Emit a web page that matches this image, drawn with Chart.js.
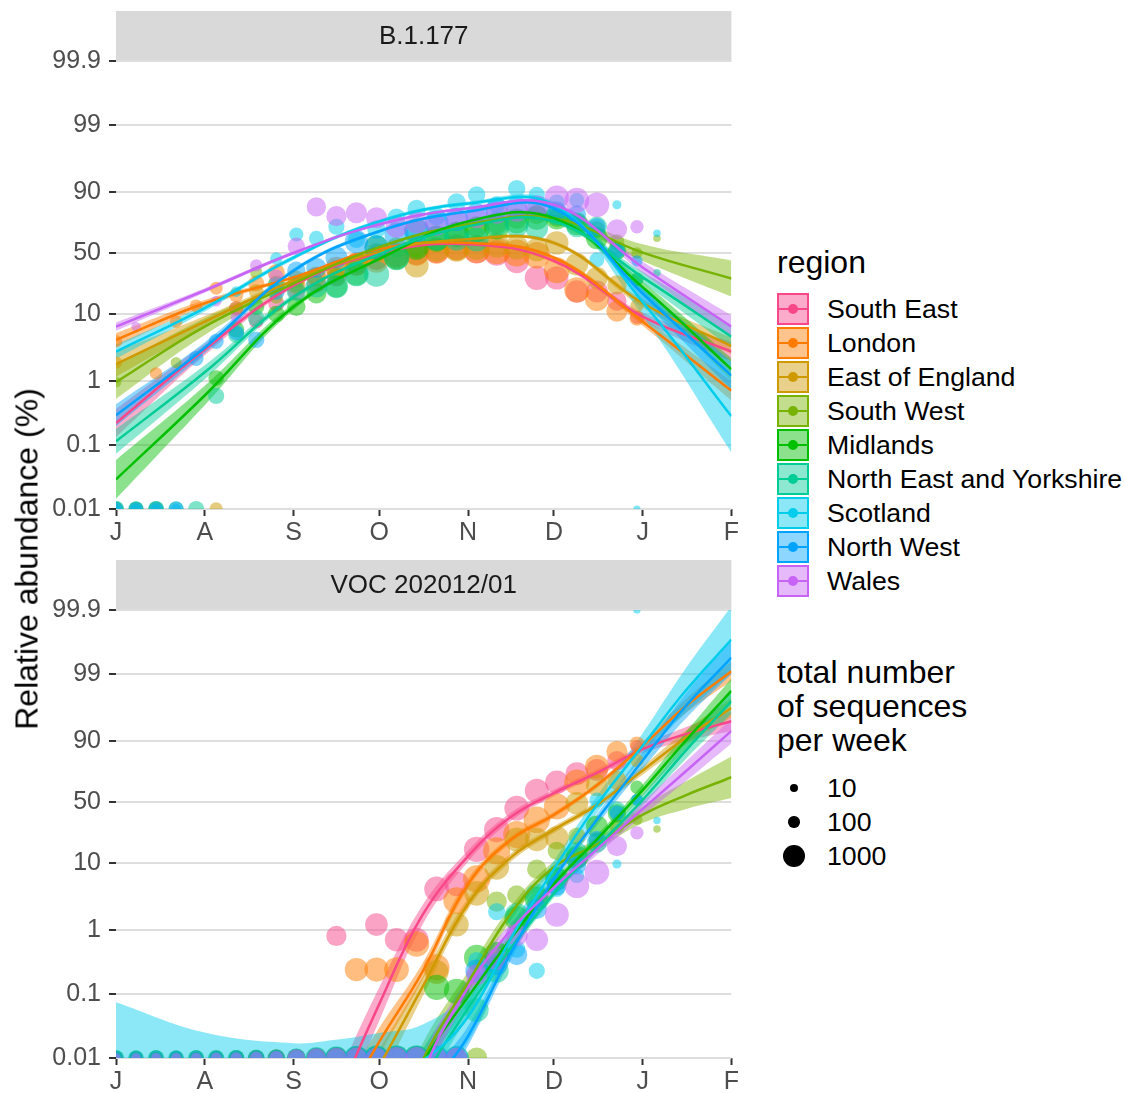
<!DOCTYPE html>
<html>
<head>
<meta charset="utf-8">
<script src="https://cdn.jsdelivr.net/npm/chart.js@4.4.1/dist/chart.umd.min.js"></script>
<style>
  body { margin: 0; background: #fff; width: 1125px; height: 1093px; overflow: hidden; position: relative;
         font-family: "Liberation Sans", Arial, Helvetica, sans-serif; }
  .panel { position: absolute; left: 0; width: 745px; height: 545px; }
  #ytitle { position: absolute; left: 27px; top: 559px; transform: translate(-50%, -50%) rotate(-90deg);
            white-space: nowrap; font-size: 32px; color: #000; }
  .ltitle { position: absolute; left: 777px; font-size: 32px; line-height: 34px; color: #000; white-space: nowrap; }
  .ltext { position: absolute; left: 827px; font-size: 26.7px; line-height: 34px; color: #000; white-space: nowrap; }
  .key { position: absolute; left: 777px; width: 32px; height: 32px; box-sizing: border-box; }
  .key i { position: absolute; left: 0; right: 0; top: 13px; height: 2px; }
  .key b { position: absolute; left: 9px; top: 9px; width: 10px; height: 10px; border-radius: 50%; }
  .sdot { position: absolute; border-radius: 50%; background: #000; }
</style>
</head>
<body>
<div class="panel" style="top:0"><canvas id="b177Chart" width="745" height="545"></canvas></div>
<div class="panel" style="top:549px"><canvas id="vocChart" width="745" height="545"></canvas></div>
<div id="ytitle">Relative abundance (%)</div>
<div id="legend"></div>
<script>
// regions and colours
const regions = ["South East", "London", "East of England", "South West", "Midlands",
  "North East and Yorkshire", "Scotland", "North West", "Wales"];
const regionColors = ["#F8488A", "#FF7C00", "#CE9A00", "#77B300", "#00BF00",
  "#00CC96", "#00CDEB", "#00A3FF", "#C864F5"];

// axes
const monthLabels = ["J", "A", "S", "O", "N", "D", "J", "F"];
const monthStartDays = [0, 31, 62, 92, 123, 153, 184, 215]; // days since 1 July 2020
const yTickPct = [0.01, 0.1, 1, 10, 50, 90, 99, 99.9];
const yTickLabels = ["0.01", "0.1", "1", "10", "50", "90", "99", "99.9"];
const sizeLegendCounts = [10, 100, 1000];

// weekly observations
const weekDays = [0, 7, 14, 21, 28, 35, 42, 49, 56, 63, 70, 77, 84, 91, 98, 105, 112, 119, 126, 133,
  140, 147, 154, 161, 168, 175, 182, 189];

// total number of sequences per week, one row per region
const seqCounts = [
  [150,150,160,170,180,200,250,300,400,500, 700,800,1000,1100,1200,1300,1400,1400,1500,1500, 1400,1300,1200,1100,1000,700,200,15],
  [150,150,150,160,170,180,250,400,500,600, 800,1000,1200,1300,1400,1500,1600,1700,1800,1800, 1800,1700,1600,1500,1300,900,300,15],
  [150,150,150,160,170,200,250,300,400,500, 600,800,1000,1100,1200,1300,1300,1300,1400,1400, 1300,1200,1200,1100,1000,700,200,15],
  [80,80,80,90,100,100,120,150,200,300, 400,500,600,700,800,900,900,900,900,800, 700,700,600,500,400,300,100,5],
  [350,300,350,300,350,350,400,400,450,600, 800,1000,1200,1300,1400,1400,1500,1500,1500,1500, 1400,1300,1200,1100,1000,600,200,5],
  [400,350,380,350,380,400,400,450,500,700, 1000,1200,1400,1500,1500,1500,1400,1400,1300,1300, 1200,1100,1000,900,800,500,150,5],
  [60,60,60,60,70,70,80,100,150,250, 300,400,500,600,600,600,600,600,500,500, 500,400,400,300,300,30,3,5],
  [300,280,300,300,300,320,350,400,450,600, 800,1000,1200,1300,1300,1300,1300,1200,1100,1000, 900,800,700,600,500,300,100,5],
  [40,40,50,60,70,80,100,150,250,500, 700,800,900,900,1000,1000,900,900,900,1000, 1000,1100,1300,1400,1400,800,200,5]
];

// B.1.177 share (%) per week
const b177Pct = [
  [null,null,null,null,null,null,12,8,14,20, 25,30,40,45,48,50,52,55,52,50, 43,29,29,20,20,15,9,null],
  [4,null,1.3,7.8,13,22,18,25,33,24, 30,37,40,43,48,50,52,55,53,52, 50,48,35,21,16,11,8.7,null],
  [1.9,null,null,null,null,0,12,20,25,28, 30,35,40,45,46,39,53,53,55,57, 55,53,59,40,29,24,13,null],
  [0.95,null,null,1.9,null,null,null,33,17,24, null,30,40,50,55,55,60,68,72,74, 77,80,78,75,70,60,50,63],
  [0,0,0,null,null,1.1,6,12.6,10,12.6, 19,23,32,55,46,55,63,66,70,72, 76,78,78,74,63,52,28,null],
  [0,0,0,0,0,0.58,5,8.7,23.7,20, 23,23,32,32,46,69,63,63,62,74, 73,71,80,72,72,52,28,33],
  [0,0,0,0,null,null,20,null,45,66, 63,72,62,70,78,83,79,86,89,85, 91,89,86,87,44,85,0,67],
  [0,0,0,0,2.2,4,5.4,4.2,20,34.6, 37,46,60,55,66,69,75,77,80,83, 84,83,82,80,72,52,43,null],
  [null,6.6,null,null,null,15,9,39,30,56, 84,79,81,78,72,75,73,77,78,81, 82,84,88,87,85,70,72,null]
];

// VOC 202012/01 share (%) per week
const vocPct = [
  [0,0,0,0,0,0,0,0,0,0, 0,0.8,0,1.2,0.7,0.7,4.2,5,15.4,27, 44.4,60,67,73.5,76,81.6,88,null],
  [0,0,0,0,0,0,0,0,0,0, 0,0,0.24,0.24,0.24,0.6,0.26,2.8,5.9,14.7, 23.7,34.5,46,67,78,86,89,null],
  [0,0,0,0,0,0,0,0,0,0, 0,0,0,0,0,0,0.22,1.2,3.6,8.7, 20.6,20.6,21.6,48.8,64.6,68.6,81.6,null],
  [0,0,0,0,0,0,0,0,0,0, 0,0,0,0,0,0,0,0,0,2.7, 3.4,8.2,14.7,22.6,20,29.4,35,27.5],
  [0,0,0,0,0,0,0,0,0,0, 0,0,0,0,0,0,0.127,0.11,0.37,0.41, 1.5,3,5.9,12,29.4,40,63,null],
  [0,0,0,0,0,0,0,0,0,0, 0,0,0,0,0,0,0,0,0.056,0.23, 1.7,3.4,6,14,18.8,43,51.8,null],
  [0,0,0,0,0,0,0,0,0,0, 0,0,0,0,0,0,0,0,0.33,1.9, 0.5,0.23,4.2,6.6,51.8,9.7,100,34],
  [0,0,0,0,0,0,0,0,0,0, 0,0,0,0,0,0,0,0,0.23,0.29, 0.41,2.1,4.7,9.2,20.6,40,52,null],
  [0,0,0,0,0,0,0,0,0,0, 0,0,0,0,0,0,0,0,0.2,0.35, 0.83,0.7,1.7,4.7,7.4,17,24.8,null]
];

// fitted curves (%) and band half-widths (logit units)
const b177FitDays = [0, 31, 62, 92, 123, 153, 184, 215];
const b177Fit = [
  [0.22, 3.0, 23.7, 50, 57.9, 43, 9.2, 2.8],
  [4.2, 14.1, 29.4, 53.5, 59, 45.8, 7.8, 0.7],
  [1.8, 7.8, 27, 51, 62.2, 59, 14.1, 3.4],
  [0.95, 6.6, 25, 55.3, 73.7, 77.8, 50.3, 28.5],
  [0.029, 0.59, 12.6, 44.7, 75.7, 77.8, 22.6, 1.5],
  [0.114, 1.35, 17, 49, 72.3, 75.7, 29.4, 4.7],
  [2.8, 12.1, 45.8, 75.7, 85.6, 85, 14.6, 0.28],
  [0.29, 3.2, 34.6, 68.6, 81.6, 83.3, 18.9, 1.2],
  [6.6, 20.6, 50, 73.7, 83.3, 85, 37.3, 6.6]
];
const b177Band = [
  [0.5, 0.2, 0.08, 0.06, 0.06, 0.08, 0.15, 0.35],
  [0.25, 0.12, 0.06, 0.05, 0.05, 0.07, 0.15, 0.35],
  [0.45, 0.2, 0.08, 0.06, 0.06, 0.07, 0.15, 0.3],
  [0.6, 0.3, 0.1, 0.07, 0.07, 0.12, 0.3, 0.65],
  [0.7, 0.35, 0.12, 0.07, 0.06, 0.08, 0.2, 0.4],
  [0.45, 0.25, 0.1, 0.06, 0.06, 0.08, 0.2, 0.4],
  [0.25, 0.12, 0.08, 0.07, 0.07, 0.12, 0.5, 1.3],
  [0.4, 0.2, 0.08, 0.06, 0.06, 0.08, 0.25, 0.5],
  [0.15, 0.08, 0.06, 0.05, 0.05, 0.07, 0.2, 0.4]
];

const vocFitDays = [0, 31, 62, 76, 92, 107, 123, 138, 153, 168, 184, 199, 215];
const vocFit = [
  [null, null, null, 0.0017, 0.07, 1.66, 12.5, 37, 58, 74, 87, 92, 94.8],
  [null, null, null, 0.001, 0.018, 0.22, 5, 20.6, 38.7, 64.6, 88.3, 96.9, 99.1],
  [null, null, null, 0.0004, 0.0075, 0.127, 2.5, 12, 27, 47.4, 75.6, 91, 96.7],
  [null, null, null, null, 0.0002, 0.009, 0.15, 1.8, 8.8, 17.9, 38.7, 56, 70.9],
  [null, null, null, null, 0.0002, 0.008, 0.09, 0.74, 5, 20.6, 60.5, 90, 98.2],
  [null, null, null, null, 0.0001, 0.004, 0.06, 0.52, 3.6, 16.4, 51.8, 86.3, 97.4],
  [0.005, 0.0025, 0.0023, 0.003, 0.0045, 0.009, 0.044, 0.74, 8.2, 47.4, 88.3, 98.2, 99.71],
  [null, null, null, null, 0.00001, 0.0018, 0.022, 0.44, 5.9, 34.5, 81.6, 96.9, 99.45],
  [null, null, null, null, 0.00001, 0.005, 0.127, 0.99, 4.4, 15.4, 43.8, 75, 92.8]
];
const vocBand = [
  [null, null, null, 0.8, 0.6, 0.35, 0.2, 0.15, 0.12, 0.12, 0.15, 0.25, 0.35],
  [null, null, null, 0.7, 0.5, 0.3, 0.18, 0.12, 0.1, 0.1, 0.15, 0.25, 0.35],
  [null, null, null, 0.8, 0.6, 0.35, 0.2, 0.15, 0.12, 0.12, 0.15, 0.25, 0.35],
  [null, null, null, null, 0.9, 0.6, 0.4, 0.25, 0.2, 0.2, 0.3, 0.5, 0.75],
  [null, null, null, null, 0.8, 0.5, 0.3, 0.2, 0.15, 0.15, 0.2, 0.3, 0.45],
  [null, null, null, null, 0.8, 0.5, 0.3, 0.2, 0.15, 0.15, 0.2, 0.3, 0.45],
  [2.7, 2.3, 2.0, 1.85, 1.7, 1.3, 0.9, 0.45, 0.3, 0.3, 0.45, 0.8, 1.2],
  [null, null, null, null, 0.9, 0.6, 0.35, 0.25, 0.2, 0.2, 0.3, 0.45, 0.6],
  [null, null, null, null, 0.9, 0.6, 0.35, 0.25, 0.2, 0.2, 0.25, 0.35, 0.45]
];

const FONT = '"Liberation Sans", Arial, Helvetica, sans-serif';

// logit scale helpers
const logit = p => Math.log(p / (100 - p));
const squish = p => Math.min(Math.max(p, 0.01), 99.9);
const dotRadius = n => 3.2 + 0.245 * Math.sqrt(n);

function withAlpha(hex, a) {
  const v = parseInt(hex.slice(1), 16);
  return `rgba(${(v >> 16) & 255}, ${(v >> 8) & 255}, ${v & 255}, ${a})`;
}

// draw order: ribbons at the back, then points, then fitted lines on top
function buildDatasets(pct, fitDays, fit, band) {
  const sets = [];
  regions.forEach((name, i) => {
    const col = regionColors[i];
    const pts = [];
    weekDays.forEach((d, w) => {
      if (pct[i][w] == null) return;
      pts.push({ x: d, y: logit(squish(pct[i][w])), r: dotRadius(seqCounts[i][w]) });
    });
    sets.push({
      type: "bubble", label: name, data: pts,
      backgroundColor: withAlpha(col, 0.5), borderWidth: 0,
      clip: 0, order: 200 - i
    });

    const hi = [], lo = [], mid = [];
    fitDays.forEach((d, k) => {
      if (fit[i][k] == null) return;
      const c = logit(fit[i][k]);
      mid.push({ x: d, y: c });
      hi.push({ x: d, y: c + band[i][k] });
      lo.push({ x: d, y: c - band[i][k] });
    });
    const lineBase = { type: "line", pointRadius: 0, tension: 0.4, clip: 0 };
    sets.push(Object.assign({}, lineBase, { data: hi, borderWidth: 0, fill: false, order: 300 - i }));
    sets.push(Object.assign({}, lineBase, {
      data: lo, borderWidth: 0, fill: "-1",
      backgroundColor: withAlpha(col, 0.45), order: 300 - i
    }));
    sets.push(Object.assign({}, lineBase, {
      data: mid, borderColor: col, borderWidth: 2.5, fill: false, order: 100 - i
    }));
  });
  return sets;
}

// grey facet strip above the plot area
const stripPlugin = {
  id: "strip",
  beforeDraw(chart, args, opts) {
    const { ctx, chartArea } = chart;
    ctx.save();
    ctx.fillStyle = "#D9D9D9";
    ctx.fillRect(chartArea.left, chartArea.top - 50, chartArea.right - chartArea.left, 50);
    ctx.fillStyle = "#1A1A1A";
    ctx.font = "26px " + FONT;
    ctx.textAlign = "center";
    ctx.textBaseline = "middle";
    ctx.fillText(opts.text, (chartArea.left + chartArea.right) / 2, chartArea.top - 24);
    ctx.restore();
  }
};

function makeChart(canvasId, title, pct, fitDays, fit, band) {
  const ctx = document.getElementById(canvasId).getContext("2d");
  return new Chart(ctx, {
    type: "line",
    data: { datasets: buildDatasets(pct, fitDays, fit, band) },
    plugins: [stripPlugin],
    options: {
      responsive: false,
      animation: false,
      events: [],
      layout: { padding: { top: 61, right: 12, bottom: 0, left: 0 } },
      elements: { line: { capBezierPoints: false } },
      plugins: {
        legend: { display: false },
        tooltip: { enabled: false },
        strip: { text: title }
      },
      scales: {
        x: {
          type: "linear", min: 0, max: 215,
          afterFit: s => { s.height = 36; },
          afterBuildTicks: s => { s.ticks = monthStartDays.map(v => ({ value: v })); },
          ticks: {
            callback: (v, i) => monthLabels[i],
            color: "#4D4D4D", font: { size: 25, family: FONT },
            padding: 2, autoSkip: false, maxRotation: 0
          },
          grid: { drawOnChartArea: false, tickLength: 7, tickWidth: 2, tickColor: "#333333" },
          border: { display: false }
        },
        y: {
          type: "linear", min: logit(0.01), max: logit(99.9),
          afterFit: s => { s.width = 116; },
          afterBuildTicks: s => { s.ticks = yTickPct.map(p => ({ value: logit(p) })); },
          ticks: {
            callback: (v, i) => yTickLabels[i],
            color: "#4D4D4D", font: { size: 25, family: FONT }, padding: 8
          },
          grid: { color: "#DEDEDE", lineWidth: 2, tickLength: 7, tickWidth: 2, tickColor: "#333333" },
          border: { display: false }
        }
      }
    }
  });
}

// HTML legends on the right
function buildLegend() {
  const box = document.getElementById("legend");
  let html = '<div class="ltitle" style="top:245px">region</div>';
  regions.forEach((name, i) => {
    const cy = 309 + 34 * i;
    const col = regionColors[i];
    html += `<div class="key" style="top:${cy - 16}px;border:2px solid ${col};background:${withAlpha(col, 0.45)}">` +
      `<i style="background:${col}"></i><b style="background:${col}"></b></div>` +
      `<div class="ltext" style="top:${cy - 17}px">${name}</div>`;
  });
  html += '<div class="ltitle" style="top:655px">total number<br>of sequences<br>per week</div>';
  sizeLegendCounts.forEach((n, k) => {
    const cy = 788 + 34 * k;
    const r = dotRadius(n);
    html += `<div class="sdot" style="left:${794 - r}px;top:${cy - r}px;width:${2 * r}px;height:${2 * r}px"></div>` +
      `<div class="ltext" style="top:${cy - 17}px">${n}</div>`;
  });
  box.innerHTML = html;
}

document.addEventListener("DOMContentLoaded", function () {
  makeChart("b177Chart", "B.1.177", b177Pct, b177FitDays, b177Fit, b177Band);
  makeChart("vocChart", "VOC 202012/01", vocPct, vocFitDays, vocFit, vocBand);
  buildLegend();
});
</script>
</body>
</html>
